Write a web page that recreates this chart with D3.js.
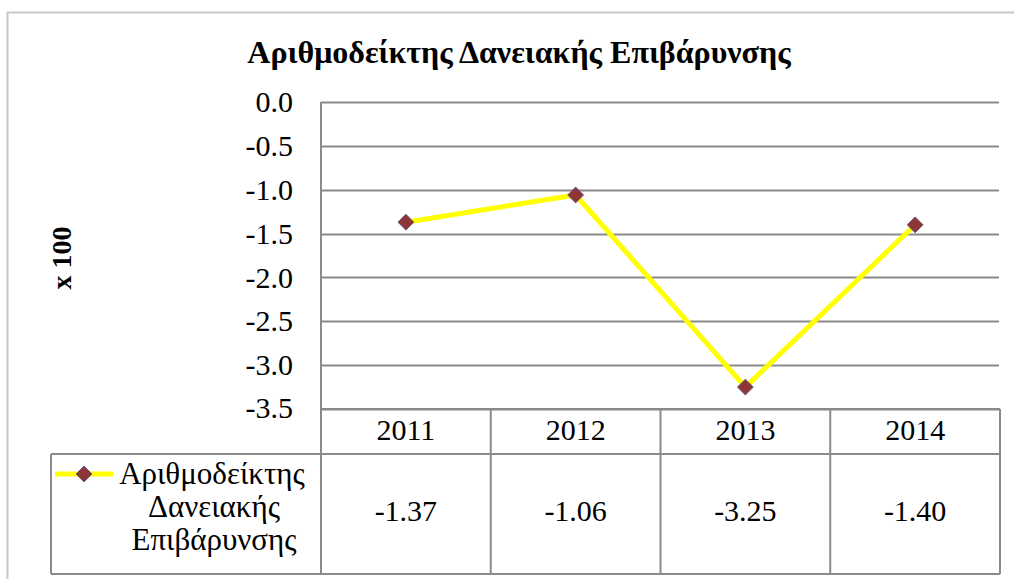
<!DOCTYPE html>
<html><head><meta charset="utf-8">
<script src="https://cdn.jsdelivr.net/npm/d3@7"></script>
</head><body style="margin:0">
<script>
const years = ["2011","2012","2013","2014"];
const values = [-1.37,-1.06,-3.25,-1.40];
const valueLabels = ["-1.37","-1.06","-3.25","-1.40"];
const yTicks = [0,-0.5,-1,-1.5,-2,-2.5,-3,-3.5];
const seriesName = ["Αριθμοδείκτης","Δανειακής","Επιβάρυνσης"];
const title = "Αριθμοδείκτης Δανειακής Επιβάρυνσης";
const yLabel = "x 100";

const W=1014,H=579;
const FF = '"Liberation Serif"';
const svg = d3.select("body").append("svg").attr("width",W).attr("height",H);
svg.append("rect").attr("x",7.5).attr("y",12.5).attr("width",1030).attr("height",600)
  .attr("fill","#fff").attr("stroke","#c8c8c8").attr("stroke-width",2);

const L=321,R=1000,T=102,B=409;
const x = d3.scaleBand().domain(years).range([L,R]);
const y = d3.scaleLinear().domain([-3.5,0]).range([B,T]);
const gridColor="#8a8a8a";

svg.append("text").attr("x",519).attr("y",63).attr("text-anchor","middle")
  .style("font-family",FF).attr("font-weight","bold").attr("font-size",32).attr("fill","#000").text(title);
svg.append("text").attr("transform","translate(71,258) rotate(-90)").attr("text-anchor","middle")
  .style("font-family",FF).attr("font-weight","bold").attr("font-size",28).text(yLabel);

svg.append("g").selectAll("line").data(yTicks).join("line")
  .attr("x1",L).attr("x2",R-1).attr("y1",d=>Math.round(y(d))+0.5).attr("y2",d=>Math.round(y(d))+0.5)
  .attr("stroke",gridColor).attr("stroke-width",2);

// y tick labels via axis scale ticks
svg.append("g").selectAll("text").data(yTicks).join("text")
  .attr("x",L-28).attr("y",d=>y(d)).attr("dy",d=>d===-3.5?"0.3em":"0.34em").attr("text-anchor","end")
  .style("font-family",FF).attr("font-size",30).attr("fill","#000")
  .text(d=>d3.format(".1f")(d).replace("−","-"));

const tg = svg.append("g").attr("stroke",gridColor).attr("stroke-width",2).attr("fill","none");
const rowTop=454, tBottom=574, tLeft=51;
tg.append("line").attr("x1",L).attr("x2",L).attr("y1",T).attr("y2",tBottom);
tg.append("line").attr("x1",R).attr("x2",R).attr("y1",B).attr("y2",tBottom);
tg.append("line").attr("x1",L).attr("x2",R).attr("y1",B).attr("y2",B);
tg.append("line").attr("x1",tLeft).attr("x2",R).attr("y1",rowTop).attr("y2",rowTop);
tg.append("line").attr("x1",tLeft).attr("x2",R).attr("y1",tBottom).attr("y2",tBottom);
tg.append("line").attr("x1",tLeft).attr("x2",tLeft).attr("y1",rowTop).attr("y2",tBottom);
tg.selectAll("line.div").data(years.slice(1)).join("line").attr("class","div")
  .attr("x1",d=>x(d)).attr("x2",d=>x(d)).attr("y1",B).attr("y2",tBottom);

svg.append("g").selectAll("text").data(years).join("text")
  .attr("x",d=>x(d)+x.bandwidth()/2).attr("y",440).attr("text-anchor","middle")
  .style("font-family",FF).attr("font-size",30).text(d=>d);
svg.append("g").selectAll("text").data(valueLabels).join("text")
  .attr("x",(d,i)=>x(years[i])+x.bandwidth()/2).attr("y",521).attr("text-anchor","middle")
  .style("font-family",FF).attr("font-size",30).text(d=>d);

svg.append("line").attr("x1",55).attr("x2",113).attr("y1",474).attr("y2",474).attr("stroke","#ffff00").attr("stroke-width",5);
const diamond = d3.symbol().type(d3.symbolDiamond2).size(160);
svg.append("path").attr("d",diamond()).attr("transform","translate(84,474)")
  .attr("fill","#8e3535").attr("stroke","#6a5a80").attr("stroke-width",1);
svg.append("g").selectAll("text").data(seriesName).join("text")
  .attr("x",(d,i)=>i===0?212:214).attr("y",(d,i)=>484+i*33).attr("text-anchor","middle")
  .style("font-family",FF).attr("font-size",31).text(d=>d);

const line = d3.line().x((d,i)=>x(years[i])+x.bandwidth()/2).y(d=>y(d));
svg.append("path").datum(values).attr("d",line).attr("fill","none")
  .attr("stroke","#ffff00").attr("stroke-width",5).attr("stroke-linejoin","round");
svg.append("g").selectAll("path").data(values).join("path")
  .attr("d",diamond()).attr("transform",(d,i)=>`translate(${x(years[i])+x.bandwidth()/2},${y(d)})`)
  .attr("fill","#8e3535").attr("stroke","#6a5a80").attr("stroke-width",1);
</script>
</body></html>
